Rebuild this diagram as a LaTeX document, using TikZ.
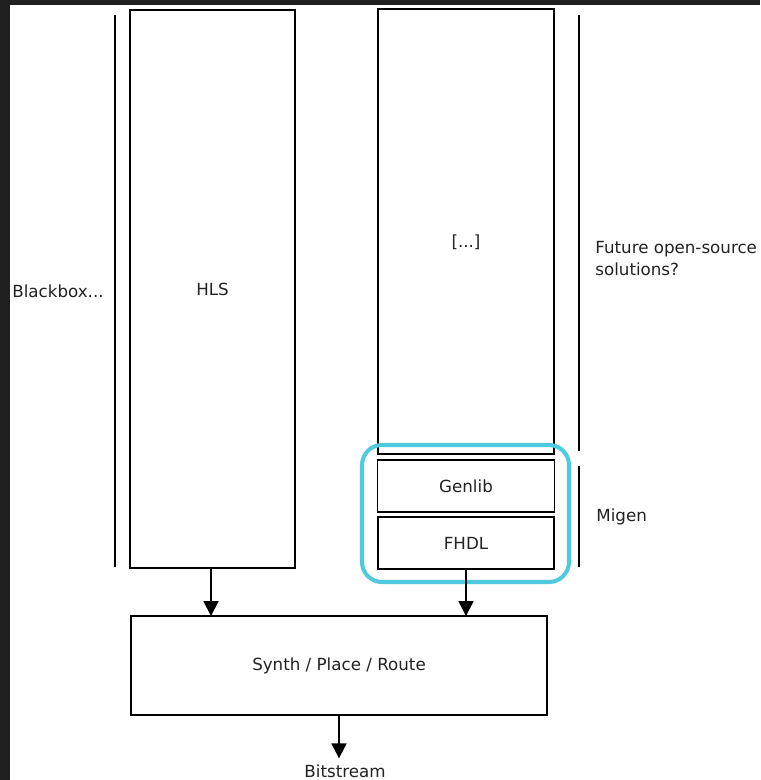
\documentclass[tikz,border=0pt]{standalone}
\usepackage{fontspec}
\setmainfont{DejaVu Sans}
\usepackage{tikz}
\usetikzlibrary{positioning}
\usetikzlibrary{arrows.meta}
\definecolor{framegray}{HTML}{202020}
\definecolor{migencyan}{HTML}{4FC9DE}
\definecolor{textgray}{HTML}{222222}

\begin{document}
\begin{tikzpicture}[
    font=\fontsize{9.5}{12.5}\selectfont,
    text=textgray,
    block/.style={draw=black, line width=1.1pt, inner sep=0pt, outer sep=0pt},
    flow/.style={line width=1.1pt, -{Triangle[width=8.5pt,length=8.5pt]}},
    bracket/.style={line width=1.1pt},
    sidetext/.style={anchor=west, inner sep=0pt}
]
    \fill[framegray] (0,0) rectangle (15.2,-15.6);
    \fill[white] (0.2,-0.1) rectangle (15.2,-15.6);
    \useasboundingbox (0,0) rectangle (15.2,-15.6);

    \node [block, minimum width=3.3cm, minimum height=11.16cm] (hls) at (4.25,-5.78) {HLS};
    \node [block, minimum width=3.52cm, minimum height=8.9cm] (future) at (9.32,-4.63) {};
    \node (dots) at ([yshift=-0.21cm]future.center) {[...]};
    \node [block, below=0.12cm of future, minimum width=3.54cm, minimum height=1.04cm] (genlib) {Genlib};
    \node [block, below=0.1cm of genlib, minimum width=3.52cm, minimum height=1.04cm] (fhdl) {FHDL};
    \node [block, minimum width=8.32cm, minimum height=1.98cm] (synth) at (6.78,-13.31) {Synth / Place / Route};
    \node (bits) at (6.9,-15.42) {Bitstream};

    \node [sidetext] (blackbox) at (0.24,-5.82) {Blackbox...};
    \node [sidetext, align=left] (opensrc) at (11.9,-5.18) {Future open-source\\solutions?};
    \node [sidetext] (migen) at (11.92,-10.34) {Migen};

    % side brackets
    \draw [bracket] (2.3,-0.3) -- (2.3,-11.34);
    \draw [bracket] (11.58,-0.3) -- (11.58,-9.02);
    \draw [bracket] (11.58,-9.32) -- (11.58,-11.34);

    % migen highlight
    \draw [migencyan, line width=2.3pt, rounded corners=0.4cm] (7.24,-8.9) rectangle (11.38,-11.64);

    \draw [flow] (hls.south -| 4.22,0) -- (4.22,0 |- synth.north);
    \draw [flow] (fhdl.south) -- (fhdl.south |- synth.north);
    \draw [flow] (synth.south) -- (synth.south |- bits.north);
\end{tikzpicture}
\end{document}
